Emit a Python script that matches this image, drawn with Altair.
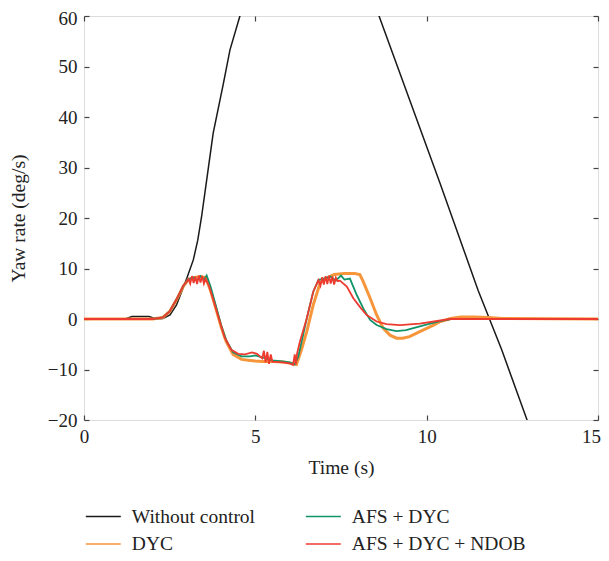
import altair as alt
import pandas as pd

# ---------------- data ----------------
series_names = ["Without control", "DYC", "AFS + DYC", "AFS + DYC + NDOB"]
series_colors = ["#1a1a1a", "#f7953b", "#12946a", "#ee3b30"]

t_black = [0, 1.2, 1.4, 1.9, 2.1, 2.3, 2.51, 2.70, 2.85, 3.0, 3.19, 3.32, 3.43,
           3.6, 3.77, 4.07, 4.26, 4.55, 5.2, 6.5, 7.8, 8.61, 10.39, 11.5, 12.19,
           12.93, 13.3]
v_black = [0, 0, 0.5, 0.5, 0, 0.1, 0.8, 2.8, 5.4, 8.06, 11.7, 15.6, 20.2,
           28.5, 36.8, 46.7, 53.3, 60, 70, 76, 70, 60, 26.9, 5.7, -6.1,
           -20, -27]

t_dyc = [0, 2.0, 2.3, 2.5, 2.7, 2.9, 3.05, 3.2, 3.4, 3.55, 3.7, 3.85, 4.0, 4.15,
         4.35, 4.6, 4.85, 5.0, 5.2, 5.5, 5.8, 6.0, 6.2, 6.35, 6.5, 6.69, 6.89,
         7.08, 7.3, 7.6, 7.9, 8.05, 8.15, 8.35, 8.54, 8.73, 8.93, 9.12, 9.3, 9.5,
         9.8, 10.2, 10.4, 10.7, 11.0, 11.4, 11.8, 12.2, 15]
v_dyc = [0, 0, 0.3, 1.5, 3.8, 6.5, 7.8, 8.2, 8.4, 8.2, 5.5, 2.0, -1.5, -4.5,
         -7.0, -8.0, -8.2, -8.3, -8.4, -8.4, -8.5, -8.7, -9.0, -6.0, -2.5, 2.8, 7.1,
         8.1, 8.8, 9.0, 9.0, 8.8, 7.4, 4.1, 0.8, -1.8, -3.2, -3.8, -3.8, -3.5,
         -2.5, -1.2, -0.5, 0.1, 0.4, 0.4, 0.3, 0.1, 0]

t_afs = [0, 2.0, 2.3, 2.5, 2.7, 2.9, 3.05, 3.2, 3.3, 3.4, 3.5, 3.58, 3.7, 3.85,
         4.0, 4.15, 4.35, 4.6, 4.85, 5.0, 5.2, 5.5, 5.8, 6.0, 6.15, 6.25, 6.4,
         6.5, 6.69, 6.84, 7.0, 7.2, 7.35, 7.5, 7.6, 7.76, 7.96, 8.15, 8.35, 8.54,
         8.83, 9.12, 9.4, 9.61, 10.1, 10.4, 10.7, 15]
v_afs = [0, 0, 0.3, 1.5, 3.9, 6.6, 7.9, 8.2, 7.6, 8.5, 7.8, 8.6, 6.3, 2.6,
         -1.2, -4.2, -6.6, -7.4, -7.4, -7.2, -7.6, -8.2, -8.4, -8.6, -9.0, -7.5,
         -3.0, 0.1, 5.4, 7.7, 8.0, 8.4, 7.6, 8.6, 7.8, 8.0, 4.75, 2.1, -0.2, -1.2,
         -2.0, -2.4, -2.2, -1.8, -0.9, -0.4, 0, 0]

t_ndob = [0, 2.0, 2.3, 2.5, 2.7, 2.9, 3.05, 3.1, 3.15, 3.2, 3.25, 3.3, 3.35, 3.4,
          3.45, 3.5, 3.55, 3.65, 3.8, 3.95, 4.1, 4.3, 4.5, 4.7, 4.9, 5.05, 5.2,
          5.25, 5.3, 5.35, 5.4, 5.45, 5.5, 5.6, 5.8, 6.0, 6.1, 6.15, 6.18, 6.22,
          6.3, 6.5, 6.69, 6.84, 6.9, 6.95, 7.0, 7.05, 7.1, 7.15, 7.2, 7.25, 7.3,
          7.35, 7.4, 7.47, 7.67, 7.86, 8.05, 8.25, 8.54, 8.83, 9.22, 9.8, 10.4,
          10.7, 15]
v_ndob = [0, 0, 0.3, 1.5, 3.9, 6.6, 7.9, 7.0, 8.5, 7.1, 8.4, 6.9, 8.6, 7.2,
          8.5, 7.0, 8.0, 6.5, 3.2, -0.2, -3.6, -6.1, -6.9, -7.0, -6.6, -6.9, -7.8,
          -6.3, -8.6, -6.5, -8.9, -7.0, -8.5, -8.5, -8.6, -8.8, -9.1, -7.0, -9.0,
          -6.8, -4.5, 0.1, 5.4, 7.7, 6.6, 8.3, 6.8, 8.5, 6.9, 8.6, 7.0, 8.4, 6.8,
          8.2, 7.5, 7.6, 6.4, 4.1, 2.4, 0.8, -0.5, -1.0, -1.2, -0.9, -0.3,
          0, 0]

x_ticks = [0, 5, 10, 15]
y_ticks = [-20, -10, 0, 10, 20, 30, 40, 50, 60]

# ---------------- build tables ----------------
def frame(t, v, name):
    return pd.DataFrame({"t": t, "v": v, "series": name})

df_black = frame(t_black, v_black, "Without control")
df_dyc = frame(t_dyc, v_dyc, "DYC")
df_afs = frame(t_afs, v_afs, "AFS + DYC")
df_ndob = frame(t_ndob, v_ndob, "AFS + DYC + NDOB")

FONT = "Liberation Serif"
xscale = alt.Scale(domain=[0, 15], nice=False, zero=False)
yscale = alt.Scale(domain=[-20, 60], nice=False, zero=False)
cscale = alt.Scale(domain=series_names, range=series_colors)
legend = alt.Legend(
    title=None, orient="none", legendX=6.8, legendY=488, columns=2,
    symbolType="M-1.5,0H1.5", symbolSize=544, symbolStrokeWidth=1.6,
    symbolFillColor="transparent",
    labelFont=FONT, labelFontSize=19.5, labelColor="#222", labelOffset=16,
    columnPadding=46, rowPadding=5.5, labelLimit=400,
)

tick_common = dict(grid=False, domain=False, tickSize=5, offset=-5,
                   tickColor="#444", tickWidth=1.2)

x_bottom = alt.Axis(orient="bottom", values=x_ticks, title="Time (s)",
                    labelFont=FONT, labelFontSize=19, labelColor="#222",
                    labelPadding=7, titleFont=FONT, titleFontSize=19.5,
                    titleFontWeight="normal", titleColor="#222", titlePadding=12,
                    labelFlush=False,
                    labelOffset={"condition": {"test": "datum.value == 15", "value": -7},
                                 "value": 0},
                    **tick_common)
y_left = alt.Axis(orient="left", values=y_ticks, title="Yaw rate (deg/s)",
                  labelFont=FONT, labelFontSize=19, labelColor="#222",
                  labelPadding=7, titleFont=FONT, titleFontSize=19.5,
                  titleFontWeight="normal", titleColor="#222", titlePadding=19,
                  labelFlush=False,
                  labelOffset={"condition": {"test": "datum.value == 60", "value": 2},
                               "value": 0},
                  **tick_common)
x_top = alt.Axis(orient="top", values=x_ticks, title=None, labels=False, **tick_common)
y_right = alt.Axis(orient="right", values=y_ticks, title=None, labels=False, **tick_common)


def layer(df, color_width, xaxis, yaxis):
    return alt.Chart(df).mark_line(clip=True, strokeWidth=color_width).encode(
        x=alt.X("t:Q", scale=xscale, axis=xaxis),
        y=alt.Y("v:Q", scale=yscale, axis=yaxis),
        color=alt.Color("series:N", scale=cscale, legend=legend),
        order=alt.Order("t:Q"),
    )

black = layer(df_black, 1.5, x_bottom, y_left)
dyc = layer(df_dyc, 3.0, None, None)
afs = layer(df_afs, 1.8, None, None)
ndob = layer(df_ndob, 1.8, x_top, y_right)

chart = alt.layer(black, dyc, afs, ndob).resolve_axis(
    x="independent", y="independent"
).properties(
    width=514, height=404,
    autosize=alt.AutoSizeParams(type="none"),
    padding={"left": 76, "top": 8, "right": 3, "bottom": 133},
).configure_view(
    stroke="#444", strokeWidth=1.4
).configure(background="white")

chart.save("out.html", embed_options={"renderer": "svg", "actions": False})
